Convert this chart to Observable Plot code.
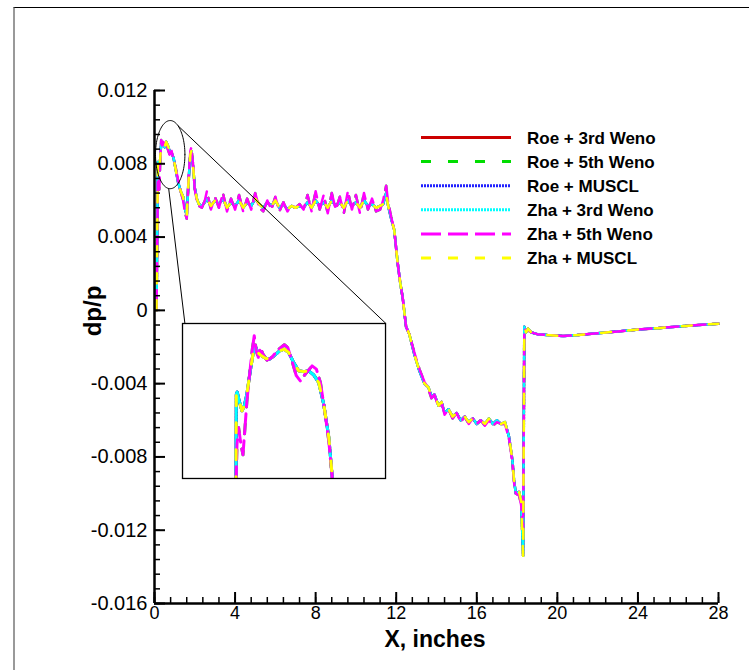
<!DOCTYPE html>
<html><head><meta charset="utf-8">
<script src="https://cdn.jsdelivr.net/npm/d3@7"></script>
<script src="https://cdn.jsdelivr.net/npm/@observablehq/plot@0.6"></script>
<style>
body{margin:0;background:#fff;}
#wrap{position:relative;width:749px;height:670px;overflow:hidden;font-family:"Liberation Sans",Arial,sans-serif;background:#fff;}
#border{position:absolute;left:13px;top:7px;width:800px;height:700px;border-top:1px solid #000;border-left:2px solid #999;box-sizing:border-box;}
.abs{position:absolute;}
</style></head><body><div id="wrap"><div id="border"></div></div>
<script>
// ---------- data ----------
const seriesNames = ["Roe + 3rd Weno","Roe + 5th Weno","Roe + MUSCL","Zha + 3rd Weno","Zha + 5th Weno","Zha + MUSCL"];
const seriesColors = ["#cc0000","#00dd00","#2020ff","#00ffff","#ff00ff","#ffff00"];
const seriesDashes = ["none","10,17","2,1","2,1","20,7","10,17"];

const xTicks = [0,4,8,12,16,20,24,28];
const yTicks = [-0.016,-0.012,-0.008,-0.004,0,0.004,0.008,0.012];

const xInches = [
 0.10,0.17,0.20,0.24,0.28,0.33,0.37,0.42,0.50,0.58,
 0.66,0.75,0.85,0.95,1.05,1.17,1.30,1.42,1.52,1.60,
 1.70,1.78,1.83,1.92,2.00,2.10,2.20,2.35,2.50,2.60,
 2.80,3.00,3.20,3.40,3.60,3.80,4.00,4.20,4.40,4.60,
 4.80,5.00,5.20,5.40,5.60,5.80,6.00,6.20,6.40,6.60,
 6.80,7.00,7.20,7.40,7.60,7.80,8.00,8.20,8.40,8.60,
 8.80,9.00,9.20,9.40,9.60,9.80,10.00,10.20,10.40,10.60,
 10.80,11.00,11.20,11.35,11.50,11.60,11.75,11.90,12.07,12.20,
 12.32,12.49,12.65,12.90,13.15,13.40,13.60,13.75,13.90,14.10,
 14.25,14.40,14.60,14.80,15.00,15.20,15.40,15.60,15.80,16.00,
 16.20,16.40,16.60,16.80,17.00,17.20,17.40,17.60,17.77,17.85,
 17.94,18.10,18.20,18.30,18.36,18.45,18.55,18.70,19.00,19.50,
 20.30,21.00,22.00,23.00,24.00,25.00,26.00,27.00,28.00
];
const dpBase = [
 0.0000,0.0081,0.0079,0.0077,0.0082,0.0091,0.0091,0.0090,0.0089,0.0092,
 0.0090,0.0087,0.0086,0.0083,0.0077,0.0070,0.0065,0.0062,0.0055,0.0052,
 0.0072,0.0085,0.0087,0.0078,0.0067,0.0061,0.0058,0.0057,0.0059,0.0061,
 0.0057,0.0060,0.0058,0.0061,0.0056,0.0059,0.0057,0.0060,0.0056,0.0059,
 0.0057,0.0061,0.0058,0.0056,0.0059,0.0057,0.0060,0.0056,0.0058,0.0055,
 0.0057,0.0056,0.0057,0.0056,0.0059,0.0056,0.0060,0.0057,0.0059,0.0056,
 0.0060,0.0057,0.0059,0.0056,0.0060,0.0057,0.0059,0.0056,0.0060,0.0057,
 0.0058,0.0056,0.0057,0.0058,0.0064,0.0057,0.0050,0.0044,0.0026,0.0015,
 0.0007,-0.0009,-0.0013,-0.0024,-0.0033,-0.0040,-0.0042,-0.0047,-0.0046,-0.0052,
 -0.0050,-0.0056,-0.0054,-0.0058,-0.0056,-0.0060,-0.0058,-0.0061,-0.0059,-0.0062,
 -0.0060,-0.0062,-0.0059,-0.0062,-0.0060,-0.0062,-0.0061,-0.0069,-0.0082,-0.0093,
 -0.0100,-0.0099,-0.0104,-0.0134,-0.0009,-0.0012,-0.0010,-0.0012,-0.0013,-0.00135,
 -0.0014,-0.00135,-0.00125,-0.00115,-0.00105,-0.00097,-0.00088,-0.0008,-0.00073
];
const dpFifth = [
 0.0000,0.0072,0.0068,0.0066,0.0080,0.0093,0.0090,0.0092,0.0090,0.0093,
 0.0088,0.0085,0.0087,0.0082,0.0078,0.0071,0.0065,0.0060,0.0053,0.0050,
 0.0074,0.0087,0.0089,0.0079,0.0066,0.0060,0.0057,0.0056,0.0060,0.0065,
 0.0055,0.0062,0.0056,0.0064,0.0054,0.0061,0.0055,0.0063,0.0054,0.0061,
 0.0055,0.0064,0.0056,0.0054,0.0060,0.0055,0.0062,0.0054,0.0059,0.0054,
 0.0057,0.0056,0.0058,0.0055,0.0063,0.0054,0.0065,0.0055,0.0063,0.0053,
 0.0064,0.0055,0.0062,0.0053,0.0065,0.0055,0.0063,0.0053,0.0064,0.0055,
 0.0061,0.0054,0.0055,0.0060,0.0068,0.0059,0.0051,0.0044,0.0026,0.0015,
 0.0007,-0.0009,-0.0013,-0.0023,-0.0032,-0.0039,-0.0043,-0.0048,-0.0046,-0.0053,
 -0.0050,-0.0057,-0.0054,-0.0059,-0.0056,-0.0061,-0.0058,-0.0062,-0.0059,-0.0062,
 -0.0060,-0.0063,-0.0060,-0.0063,-0.0061,-0.0062,-0.0062,-0.0070,-0.0083,-0.0094,
 -0.0100,-0.0101,-0.0106,-0.0120,-0.0010,-0.0011,-0.0011,-0.0012,-0.0013,-0.00135,
 -0.0014,-0.00135,-0.00125,-0.00115,-0.00105,-0.00097,-0.00088,-0.0008,-0.00073
];
const dpRoe3rd = dpBase, dpRoe5th = dpFifth, dpRoeMuscl = dpBase;
const dpZha3rd = dpBase, dpZha5th = dpFifth, dpZhaMuscl = dpBase;
const seriesValues = [dpRoe3rd, dpRoe5th, dpRoeMuscl, dpZha3rd, dpZha5th, dpZhaMuscl];

// zoomed inset (detail of the peak near x = 0..1)
const insetXBase = [0.174,0.177,0.185,0.203,0.227,0.248,0.271,0.301,0.325,0.345,0.366,0.390,0.434,0.473,0.514,0.561,0.603,0.641,0.686,0.730,0.775,0.819,0.863,0.908,0.952,0.997,1.035];
const insetDpBase = [0.0058,0.00807,0.00812,0.00790,0.00766,0.00778,0.00807,0.00864,0.00905,0.00925,0.00909,0.00903,0.00895,0.00893,0.00901,0.00913,0.00917,0.00909,0.00884,0.00864,0.00862,0.00864,0.00854,0.00835,0.00782,0.00701,0.0058];
const insetXFifth = [0.174,0.183,0.197,0.218,0.236,0.254,0.271,0.295,0.319,0.336,0.354,0.372,0.390,0.413,0.449,0.493,0.544,0.603,0.633,0.671,0.709,0.745,0.789,0.849,0.887,0.923,0.961,0.997,1.035];
const insetDpFifth = [0.0058,0.00684,0.00725,0.00684,0.00658,0.00725,0.00790,0.00856,0.00917,0.00950,0.00913,0.00897,0.00921,0.00905,0.00890,0.00897,0.00915,0.00928,0.00921,0.00888,0.00852,0.00839,0.00856,0.00876,0.00868,0.00835,0.00766,0.00692,0.0058];
const insetXDomain = [-0.3, 1.5];
const insetYDomain = [0.0060, 0.0098];

// annotation: zoom ellipse and inset box (in main-chart data units)
const zoomEllipse = {cx: 0.78, cy: 0.0085, rx: 0.73, ry: 0.00186, angA: 58, angB: -96};
const insetBox = {x1: 1.41, x2: 11.49, y1: -0.00918, y2: -0.00072};

// ---------- drawing ----------
const font = '"Liberation Sans", Arial, Helvetica, sans-serif';
const mainLines = seriesNames.map((name, k) =>
  Plot.line(xInches.map((x, i) => ({x, y: seriesValues[k][i]})),
    {x: "x", y: "y", stroke: seriesColors[k], strokeWidth: 2.5, strokeDasharray: seriesDashes[k]}));

const ePt = a => ({x: zoomEllipse.cx + zoomEllipse.rx * Math.cos(a * Math.PI / 180),
                   y: zoomEllipse.cy + zoomEllipse.ry * Math.sin(a * Math.PI / 180)});
const ellipsePts = d3.range(0, 361, 3).map(ePt);
const connectors = [
  {a: ePt(zoomEllipse.angA), b: {x: insetBox.x2, y: insetBox.y2}},
  {a: ePt(zoomEllipse.angB), b: {x: insetBox.x1 + 0.1, y: insetBox.y2}}
];

const xMinor = d3.range(0, 28.01, 0.8);
const yMinor = d3.range(-0.016, 0.01201, 0.0008);
const yFmt = d => Math.abs(d) < 1e-12 ? "0" : d.toFixed(3);

const main = Plot.plot({
  width: 749, height: 670,
  marginLeft: 154, marginRight: 31, marginTop: 90, marginBottom: 67,
  style: {fontFamily: font, fontSize: "20px", background: "transparent", color: "#000", overflow: "visible"},
  x: {domain: [0, 28]},
  y: {domain: [-0.016, 0.012]},
  marks: [
    ...mainLines,
    Plot.line(ellipsePts, {x: "x", y: "y", stroke: "#000", strokeWidth: 1}),
    Plot.link(connectors, {x1: d => d.a.x, y1: d => d.a.y, x2: d => d.b.x, y2: d => d.b.y, stroke: "#000", strokeWidth: 1}),
    Plot.axisX({ticks: xMinor, tickSize: -6, tickFormat: () => "", label: null, strokeWidth: 1.5}),
    Plot.axisX({ticks: xTicks, tickSize: -11, tickFormat: () => "", label: null, strokeWidth: 2}),
    Plot.axisX({ticks: xTicks, tickSize: 0, tickPadding: 3, fontSize: 18, tickFormat: d => String(d), label: null}),
    Plot.axisY({ticks: yMinor, tickSize: -6, tickFormat: () => "", label: null, strokeWidth: 1.5}),
    Plot.axisY({ticks: yTicks, tickSize: -11, tickFormat: () => "", label: null, strokeWidth: 2}),
    Plot.axisY({ticks: yTicks, tickSize: 0, tickPadding: 7, tickFormat: yFmt, label: null}),
    Plot.ruleX([0], {strokeWidth: 2.5}),
    Plot.ruleY([-0.016], {strokeWidth: 2.5})
  ]
});
main.classList.add("abs");
main.style.left = "0px"; main.style.top = "0px";
document.getElementById("wrap").appendChild(main);

// axis titles
const msvg = d3.select(main);
msvg.append("text").attr("x", 435).attr("y", 647).attr("text-anchor", "middle")
  .attr("font-family", font).attr("font-weight", "bold").attr("font-size", 23).text("X, inches");
msvg.append("text").attr("transform", "translate(101,311) rotate(-90)").attr("text-anchor", "middle")
  .attr("font-family", font).attr("font-weight", "bold").attr("font-size", 24).text("dp/p");

// inset plot
const sx = main.scale("x"), sy = main.scale("y");
const iLeft = sx.apply(insetBox.x1), iRight = sx.apply(insetBox.x2);
const iTop = sy.apply(insetBox.y2), iBottom = sy.apply(insetBox.y1);
const insetSeries = [
  {x: insetXBase, y: insetDpBase}, {x: insetXFifth, y: insetDpFifth}, {x: insetXBase, y: insetDpBase},
  {x: insetXBase, y: insetDpBase}, {x: insetXFifth, y: insetDpFifth}, {x: insetXBase, y: insetDpBase}
];
const inset = Plot.plot({
  width: iRight - iLeft, height: iBottom - iTop, margin: 0,
  style: {background: "#fff", overflow: "visible"},
  x: {domain: insetXDomain, axis: null},
  y: {domain: insetYDomain, axis: null},
  marks: [
    ...insetSeries.map((s, k) => Plot.line(s.x.map((x, i) => ({x, y: s.y[i]})),
      {x: "x", y: "y", stroke: seriesColors[k], strokeWidth: 3, strokeDasharray: seriesDashes[k], clip: true})),
    Plot.frame({stroke: "#000", strokeWidth: 1.3})
  ]
});
inset.classList.add("abs");
inset.style.left = iLeft + "px"; inset.style.top = iTop + "px";
document.getElementById("wrap").appendChild(inset);

// legend
const leg = d3.select("#wrap").append("svg").attr("class", "abs")
  .style("left", "0px").style("top", "0px").attr("width", 749).attr("height", 670)
  .style("pointer-events", "none");
seriesNames.forEach((name, k) => {
  const y = 137.5 + k * 24.1;
  leg.append("line").attr("x1", 421).attr("x2", 511).attr("y1", y).attr("y2", y)
    .attr("stroke", seriesColors[k]).attr("stroke-width", 3)
    .attr("stroke-dasharray", seriesDashes[k] === "none" ? null : seriesDashes[k]);
  leg.append("text").attr("x", 527).attr("y", y).attr("dy", "0.36em")
    .attr("font-family", font).attr("font-weight", "bold").attr("font-size", 17).text(name);
});
</script></body></html>
